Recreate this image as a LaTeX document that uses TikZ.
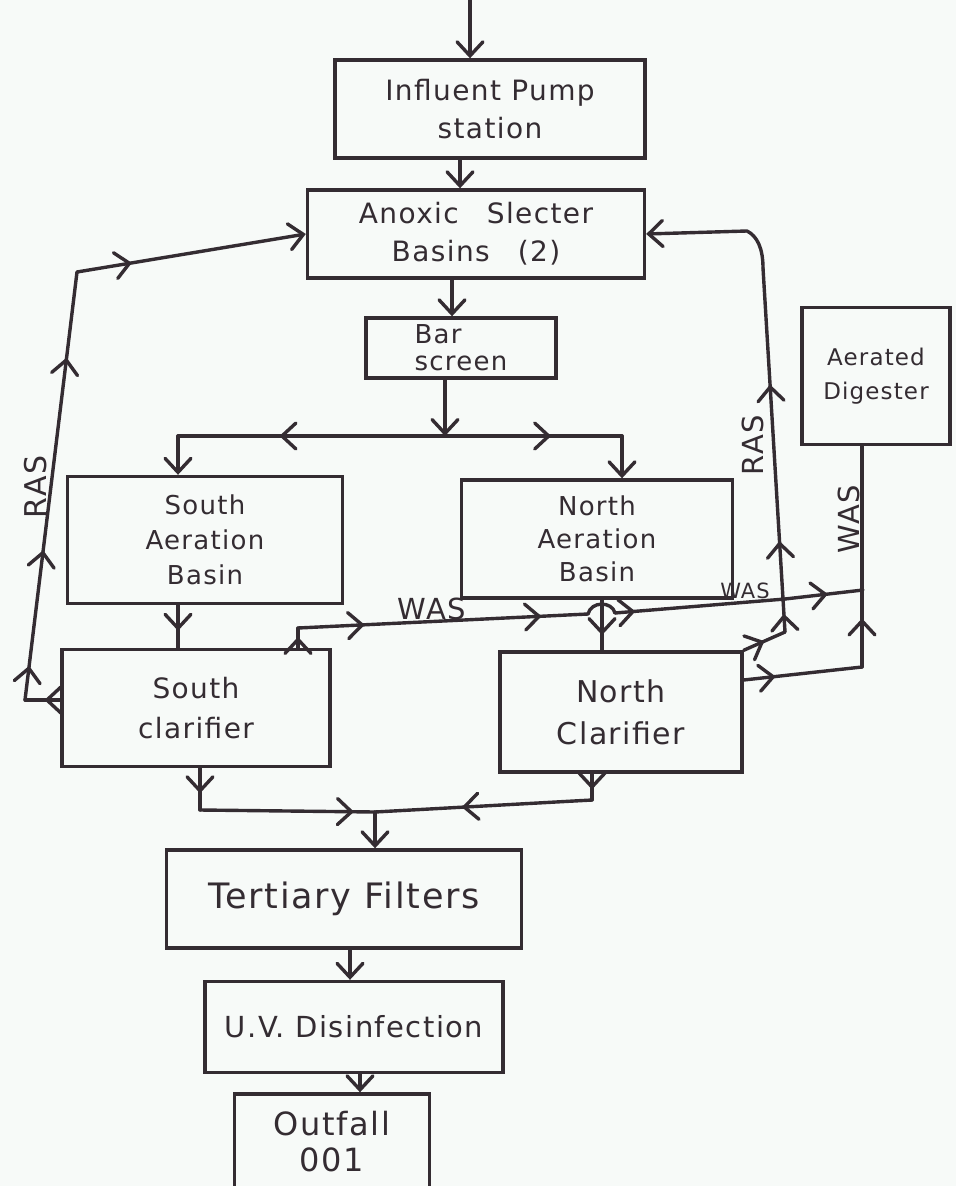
\documentclass[tikz,border=0pt]{standalone}
\usepackage{fontspec}
\setmainfont{DejaVu Sans}[LetterSpace=5]
\usetikzlibrary{arrows.meta,decorations.markings}
\definecolor{ink}{RGB}{52,44,50}
\definecolor{paper}{RGB}{247,250,248}
\tikzset{
  hb/.tip={Straight Barb[length=14pt,width=26pt,line cap=round]},
  box/.style={draw=ink, line width=3.4pt, inner sep=0pt, align=center, text=ink},
  conn/.style={draw=ink, line width=3.4pt, line cap=round, line join=round},
  tipend/.style={-{hb}},
  am/.style={postaction={decorate,decoration={markings,mark=at position #1 with {\arrow{hb}}}}},
  lbl/.style={text=ink, inner sep=0pt},
}
\begin{document}
\begin{tikzpicture}[x=1pt,y=-1pt]
\useasboundingbox (0,0) rectangle (956,1186);
\fill[paper] (0,0) rectangle (956,1186);
\clip (0,0) rectangle (956,1186);

% boxes
\node[box, minimum width=310pt, minimum height=98pt, font=\fontsize{28}{38}\selectfont] (pump) at (490,109) {Influent Pump\\station};
\node[box, minimum width=337pt, minimum height=88pt, font=\fontsize{28}{38}\selectfont] (anox) at (476,234) {Anoxic\quad Slecter\\Basins\quad (2)};
\node[box, minimum width=190pt, minimum height=60pt, font=\fontsize{26}{27}\selectfont, align=left] (bar) at (461,348) {Bar\\screen};
\node[box, minimum width=275pt, minimum height=127pt, font=\fontsize{26}{35}\selectfont] (saer) at (205,540) {South\\Aeration\\Basin};
\node[box, minimum width=271pt, minimum height=118pt, font=\fontsize{26}{33}\selectfont] (naer) at (597,539) {North\\Aeration\\Basin};
\node[box, minimum width=268pt, minimum height=117pt, font=\fontsize{28}{40}\selectfont] (sclar) at (196,708) {South\\clarifier};
\node[box, minimum width=242pt, minimum height=120pt, font=\fontsize{30}{42}\selectfont] (nclar) at (621,712) {North\\Clarifier};
\node[box, minimum width=148pt, minimum height=137pt, font=\fontsize{23}{34}\selectfont] (dig) at (876,376) {Aerated\\Digester};
\node[box, minimum width=355pt, minimum height=98pt, font=\fontsize{35}{40}\selectfont] (tert) at (344,899) {Tertiary Filters};
\node[box, minimum width=298pt, minimum height=91pt, font=\fontsize{29}{34}\selectfont] (uv) at (354,1027) {U.V. Disinfection};
\node[box, minimum width=195pt, minimum height=96pt, font=\fontsize{32}{36}\selectfont] (out) at (332,1142) {Outfall\\001};

% labels
\node[lbl, rotate=90, font=\fontsize{30}{30}\selectfont] (rasL) at (36,487) {RAS};
\node[lbl, rotate=90, font=\fontsize{29}{29}\selectfont] (rasR) at (753,445) {RAS};
\node[lbl, anchor=base, font=\fontsize{29}{29}\selectfont] (wasS) at (432,619) {WAS};
\node[lbl, anchor=base, font=\fontsize{21}{21}\selectfont] (wasN) at (745,598) {WAS};
\node[lbl, rotate=90, font=\fontsize{29}{29}\selectfont] (wasR) at (849,519) {WAS};

% main flow
\coordinate (src) at (470,0);
\draw[conn,tipend] (src) -- (pump.north -| src);
\coordinate (x2) at (460,0);
\draw[conn,tipend] (pump.south -| x2) -- (anox.north -| x2);
\coordinate (x3) at (452,0);
\draw[conn,tipend] (anox.south -| x3) -- (bar.north -| x3);
\coordinate (sp) at (445,436);
\draw[conn,tipend] (bar.south -| sp) -- (sp);
\coordinate (sl) at (178,436);
\coordinate (sr) at (622,436);
\draw[conn,am=0.62] (sp) -- (sl);
\draw[conn,tipend] (sl) -- (saer.north -| sl);
\draw[conn,am=0.6] (sp) -- (sr);
\draw[conn,tipend] (sr) -- (naer.north -| sr);
\coordinate (x7) at (178,0);
\draw[conn,am=0.6] (saer.south -| x7) -- (sclar.north -| x7);
\coordinate (x8) at (602,0);
\draw[conn,am=0.7] (naer.south -| x8) -- (nclar.north -| x8);

\coordinate (m) at (375,812);
\coordinate (c9) at (200,810);
\draw[conn,am=0.6] (sclar.south -| c9) -- (c9);
\draw[conn,am=0.88] (c9) -- (m);
\coordinate (c10) at (592,800);
\draw[conn,am=0.6] (nclar.south -| c10) -- (c10);
\draw[conn,am=0.6] (c10) -- (m);
\draw[conn,tipend] (m) -- (tert.north -| m);
\coordinate (x12) at (350,0);
\draw[conn,tipend] (tert.south -| x12) -- (uv.north -| x12);
\coordinate (x13) at (360,0);
\draw[conn,tipend] (uv.south -| x13) -- (out.north -| x13);

% left RAS
\coordinate (r1) at (25,700);
\coordinate (r2) at (77,272);
\draw[conn,am=0.45] (sclar.west |- r1) -- (r1);
\draw[conn,am=0.08,am=0.35,am=0.8] (r1) -- (r2);
\draw[conn,am=0.24,tipend] (r2) -- (anox.west);

% right RAS
\coordinate (q1) at (785,632);
\coordinate (q2) at (763,268);
\coordinate (q3) at (747,231);
\draw[conn,am=0.5] (nclar.north east) -- (q1);
\draw[conn,am=0.05,am=0.25,am=0.68] (q1) -- (q2);
\draw[conn,tipend] (q2) .. controls (763,248) and (757,236) .. (q3) -- (anox.east);

% WAS from south clarifier
\coordinate (w0) at (298,628);
\coordinate (w1) at (588,614);
\coordinate (w2) at (615,613);
\coordinate (w3) at (785,599);
\coordinate (w4) at (863,590);
\draw[conn,am=0.55] (sclar.north -| w0) -- (w0);
\draw[conn,am=0.23,am=0.84] (w0) -- (w1);
\draw[conn] (w1) .. controls (591,601) and (612,601) .. (w2);
\draw[conn,am=0.12] (w2) -- (w3);
\draw[conn,am=0.55] (w3) -- (w4);

% WAS from north clarifier
\coordinate (v0) at (0,680);
\coordinate (v1) at (862,667);
\draw[conn,am=0.27] (nclar.east |- v0) -- (v1);
\draw[conn,am=0.22] (v1) -- (dig.south -| v1);
\end{tikzpicture}
\end{document}
